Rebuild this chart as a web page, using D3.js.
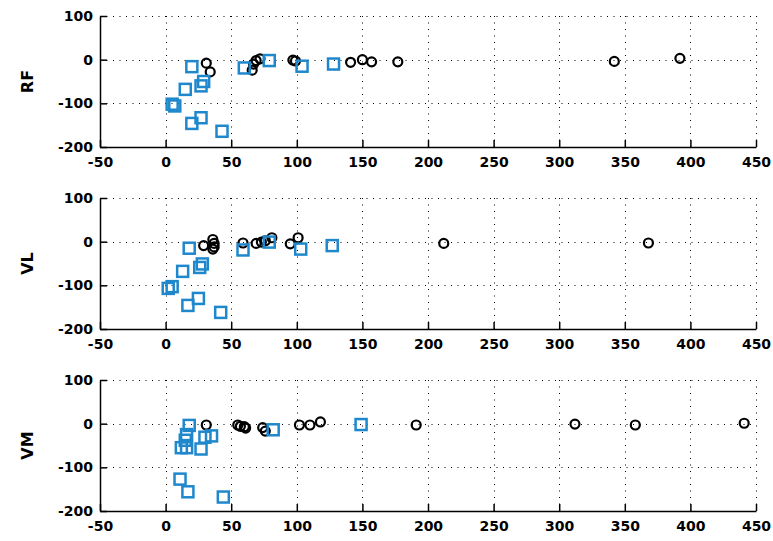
<!DOCTYPE html>
<html>
<head>
<meta charset="utf-8">
<script src="https://cdn.jsdelivr.net/npm/d3@7"></script>
<style>
  body { margin: 0; background: #fff; }
  text { font-family: "DejaVu Sans", "Liberation Sans", sans-serif; font-weight: bold; fill: #000; }
</style>
</head>
<body>
<svg id="chart" width="773" height="541"></svg>
<script>
// panel names (y labels)
var panelNames = ["RF", "VL", "VM"]
var xTicks = [-50, 0, 50, 100, 150, 200, 250, 300, 350, 400, 450]
var yTicks = [-200, -100, 0, 100]

// black circles [x, y]
var rfCircles = [[31,-8],[34,-28],[66,-24],[67,-10],[69,-2],[72,2],[97,-1],[99,-3],
                 [141,-6],[150,0],[157,-5],[177,-5],[342,-4],[392,3]]
var vlCircles = [[29,-9],[36,5],[37,-4],[37,-12],[36,-17],[59,-3],[69,-4],[73,-1],
                 [76,2],[81,9],[95,-5],[101,9],[212,-4],[368,-3]]
var vmCircles = [[31,-3],[55,-3],[57,-6],[61,-10],[60,-7],[74,-9],[76,-17],
                 [102,-3],[110,-3],[118,4],[191,-3],[312,-1],[358,-3],[441,1]]

// blue squares [x, y]
var rfSquares = [[20,-16],[29,-50],[27,-60],[15,-68],[5,-102],[7,-106],[20,-146],
                 [27,-133],[43,-164],[60,-19],[79,-2],[104,-15],[128,-10]]
var vlSquares = [[18,-15],[28,-51],[26,-59],[13,-68],[5,-103],[2,-107],[17,-146],
                 [25,-130],[42,-162],[59,-19],[79,-1],[103,-17],[127,-9]]
var vmSquares = [[18,-4],[16,-25],[15,-38],[12,-55],[16,-55],[30,-31],[35,-28],
                 [27,-58],[11,-127],[17,-156],[44,-168],[82,-14],[149,-2]]

var circleSets = [rfCircles, vlCircles, vmCircles]
var squareSets = [rfSquares, vlSquares, vmSquares]

var left = 100, right = 756
var tops = [16, 198, 380]
var h = 131
var blue = "#1f88cc"

var svg = d3.select("#chart")
svg.append("rect").attr("width", 773).attr("height", 541).attr("fill", "#fff")

var x = d3.scaleLinear().domain([-50, 450]).range([left, right])

panelNames.forEach(function(name, i) {
    var y = d3.scaleLinear().domain([-200, 100]).range([tops[i] + h, tops[i]])
    var g = svg.append("g")

    // dotted grid
    g.selectAll(".gx").data(xTicks.slice(1)).enter().append("line")
        .attr("x1", d => Math.round(x(d)) + 0.5).attr("x2", d => Math.round(x(d)) + 0.5)
        .attr("y1", y(100)).attr("y2", y(-200))
        .attr("stroke", "#000").attr("stroke-width", 1).attr("stroke-dasharray", "1,5.5")
    g.selectAll(".gy").data(yTicks.slice(1)).enter().append("line")
        .attr("x1", x(-50)).attr("x2", x(450))
        .attr("y1", d => Math.round(y(d)) + 0.5).attr("y2", d => Math.round(y(d)) + 0.5)
        .attr("stroke", "#000").attr("stroke-width", 1).attr("stroke-dasharray", "1,5.5")

    // axes, ticks inside, plain hyphen minus like the original
    var fmt = d => String(d)
    var xAxis = d3.axisBottom(x).tickValues(xTicks).tickFormat(fmt).tickSizeInner(-7).tickSizeOuter(0)
    var yAxis = d3.axisLeft(y).tickValues(yTicks).tickFormat(fmt).tickSizeInner(-7).tickSizeOuter(0).tickPadding(7)
    var gx = g.append("g").attr("transform", "translate(0," + (tops[i] + h) + ")").call(xAxis)
    var gy = g.append("g").attr("transform", "translate(" + left + ",0)").call(yAxis)
    ;[gx, gy].forEach(function(a) {
        a.select(".domain").attr("stroke", "#000").attr("stroke-width", 1.5)
        a.selectAll(".tick line").attr("stroke", "#000").attr("stroke-width", 1.5)
        a.selectAll("text").style("font-size", "14px").style("font-family", "'DejaVu Sans', sans-serif")
            .style("font-weight", "bold").attr("fill", "#000")
    })
    gx.selectAll(".tick text").attr("dy", "0.71em").attr("y", 10)

    // y label
    svg.append("text")
        .attr("transform", "translate(33," + y(-50) + ") rotate(-90)")
        .attr("text-anchor", "middle")
        .style("font-size", "16px")
        .text(name)

    // markers
    g.selectAll(".c").data(circleSets[i]).enter().append("circle")
        .attr("cx", d => x(d[0])).attr("cy", d => y(d[1])).attr("r", 4.5)
        .attr("fill", "none").attr("stroke", "#000").attr("stroke-width", 2.2)
    g.selectAll(".s").data(squareSets[i]).enter().append("rect")
        .attr("x", d => x(d[0]) - 5.5).attr("y", d => y(d[1]) - 5.5)
        .attr("width", 11).attr("height", 11)
        .attr("fill", "none").attr("stroke", blue).attr("stroke-width", 2.5)
})
</script>
</body>
</html>
